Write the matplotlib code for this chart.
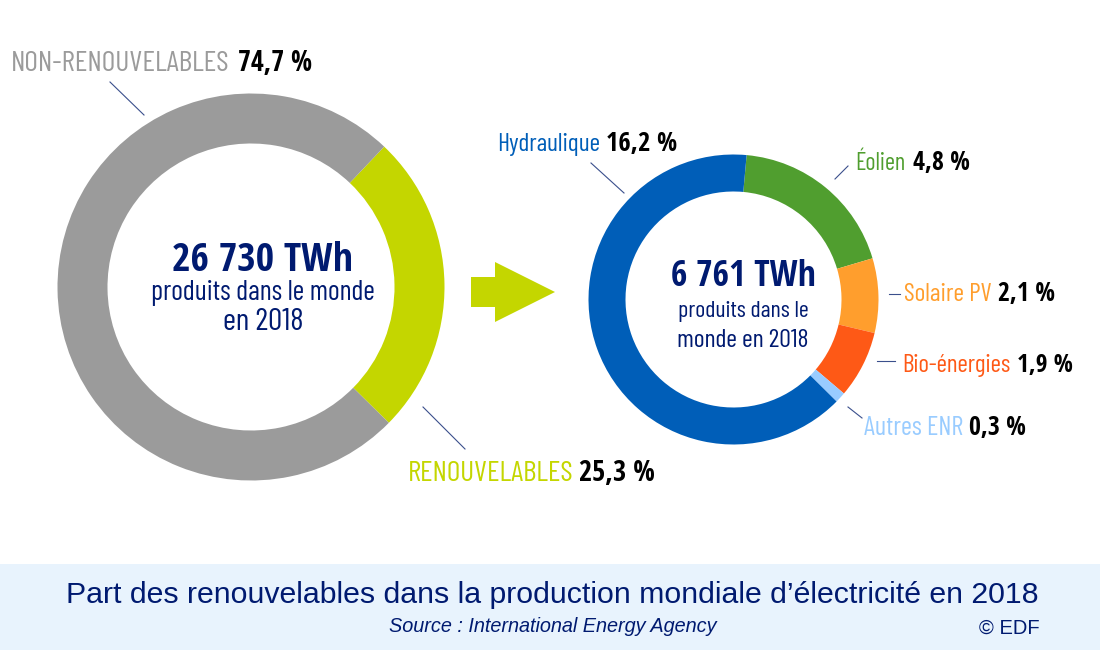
import matplotlib
matplotlib.use('Agg')
import matplotlib.pyplot as plt
from matplotlib import font_manager as fm
from matplotlib.patches import Polygon, Rectangle

# polices etroites si elles sont la, sinon Liberation Sans
BOLD_FAMILIES = ['Open Sans Condensed', 'Fira Sans Condensed', 'Liberation Sans']
THIN_FAMILIES = ['Barlow Condensed', 'Open Sans Condensed', 'Fira Sans Condensed', 'Liberation Sans']
plt.rcParams['font.family'] = BOLD_FAMILIES + ['DejaVu Sans']


def find_thin():
    """First regular or lighter cut found among the condensed families."""
    for family in THIN_FAMILIES:
        for wanted in (400, 300):
            for f in fm.fontManager.ttflist:
                weight = fm.weight_dict.get(f.weight, f.weight)
                if f.name.startswith(family) and f.style == 'normal' and weight == wanted:
                    return fm.FontProperties(fname=f.fname)
    return fm.FontProperties()


THIN = find_thin()

# left ring
total_labels = ['RENOUVELABLES', 'NON-RENOUVELABLES']
total_values = [25.3, 74.7]
total_colors = ['#C4D600', '#9B9B9B']

# right ring
enr_labels = ['Éolien', 'Solaire PV', 'Bio-énergies', 'Autres ENR', 'Hydraulique']
enr_values = [4.8, 2.1, 1.9, 0.3, 16.2]
enr_colors = ['#509E2F', '#FF9E2D', '#FE5916', '#99CCFF', '#005EB8']

NAVY = '#001A70'
W, H = 1100, 650


def ring(fig, cx, cy, r, r_in, values, colors, start):
    """Draw a ring from a centre and radii given in pixels."""
    ax = fig.add_axes([(cx - r) / W, 1 - (cy + r) / H, 2 * r / W, 2 * r / H])
    ax.pie(values, colors=colors, startangle=start, counterclock=False, radius=1,
           wedgeprops={'width': 1 - r_in / r, 'linewidth': 0})
    ax.set_xlim(-1, 1)
    ax.set_ylim(-1, 1)
    ax.axis('off')


def fit(t, width):
    """Set the font size so the text takes the given width in pixels."""
    fig = t.get_figure()
    t.set_fontsize(18)
    measured = t.get_window_extent(fig.canvas.get_renderer()).width
    t.set_fontsize(18 * width / measured)


def thin_text(ax, x, y, text, color, width, ha='left'):
    t = ax.text(x, y, text, color=color, fontproperties=THIN, ha=ha, va='baseline')
    fit(t, width)


def bold_text(ax, x, y, text, color, width, ha='left'):
    t = ax.text(x, y, text, color=color, fontweight='bold', ha=ha, va='baseline')
    fit(t, width)


def label(ax, x, y, name, name_w, value, value_w, color, x_value):
    thin_text(ax, x, y, name, color, name_w)
    bold_text(ax, x_value, y, value, 'black', value_w)


def main():
    fig = plt.figure(figsize=(W / 100, H / 100), dpi=100, facecolor='white')

    ring(fig, 251, 287, 193.5, 143.5, total_values, total_colors, 46.5)
    ring(fig, 733.5, 299.5, 145, 108, enr_values, enr_colors, 84.8)

    ax = fig.add_axes([0, 0, 1, 1], facecolor='none')
    ax.set_xlim(0, W)
    ax.set_ylim(H, 0)
    ax.axis('off')

    # bandeau du bas
    ax.add_patch(Rectangle((0, 564), W, 86, facecolor='#E8F3FD', edgecolor='none'))

    # fleche
    ax.add_patch(Polygon([(471, 277), (495, 277), (495, 262), (555, 292), (495, 322),
                          (495, 307), (471, 307)], closed=True,
                         facecolor='#C4D600', edgecolor='none'))

    # traits de rappel
    leaders = [((110, 82), (144, 115)), ((423, 407), (465, 449)), ((591, 163), (624, 193)),
               ((848, 166), (835, 179)), ((889, 294), (900, 294)), ((877, 361), (895, 361)),
               ((848, 407), (862, 418))]
    for a, b in leaders:
        ax.plot([a[0], b[0]], [a[1], b[1]], color='#3A4F8C', lw=0.8)

    label(ax, 11, 71, total_labels[1], 218, '74,7 %', 74, '#9B9B9B', 238)
    label(ax, 408, 481, total_labels[0], 165, '25,3 %', 76, '#C4D600', 579)
    label(ax, 497, 151, enr_labels[4], 103, '16,2 %', 71, '#005EB8', 606)
    label(ax, 855, 170, enr_labels[0], 50, '4,8 %', 57, '#509E2F', 913)
    label(ax, 904, 301, enr_labels[1], 88, '2,1 %', 57, '#FF9E2D', 998)
    label(ax, 902, 372, enr_labels[2], 108, '1,9 %', 56, '#FE5916', 1017)
    label(ax, 864, 435, enr_labels[3], 99, '0,3 %', 57, '#99CCFF', 969)

    # centre des anneaux
    bold_text(ax, 263, 271, '26 730 TWh', NAVY, 181, ha='center')
    thin_text(ax, 263, 300, 'produits dans le monde', NAVY, 223, ha='center')
    thin_text(ax, 263, 330, 'en 2018', NAVY, 80, ha='center')
    bold_text(ax, 743, 286, '6 761 TWh', NAVY, 145, ha='center')
    thin_text(ax, 743, 317, 'produits dans le', NAVY, 130, ha='center')
    thin_text(ax, 743, 347, 'monde en 2018', NAVY, 131, ha='center')

    # titre
    ax.text(552, 603, 'Part des renouvelables dans la production mondiale d’électricité en 2018',
            color=NAVY, fontsize=21.8, family='Liberation Sans', ha='center', va='baseline')
    ax.text(553, 632, 'Source : International Energy Agency', color=NAVY, fontsize=14.3,
            family='Liberation Sans', style='italic', ha='center', va='baseline')
    ax.text(1040, 634, '© EDF', color=NAVY, fontsize=14.5, family='Liberation Sans',
            ha='right', va='baseline')

    fig.savefig('out.png', dpi=100)


if __name__ == "__main__":
    main()
